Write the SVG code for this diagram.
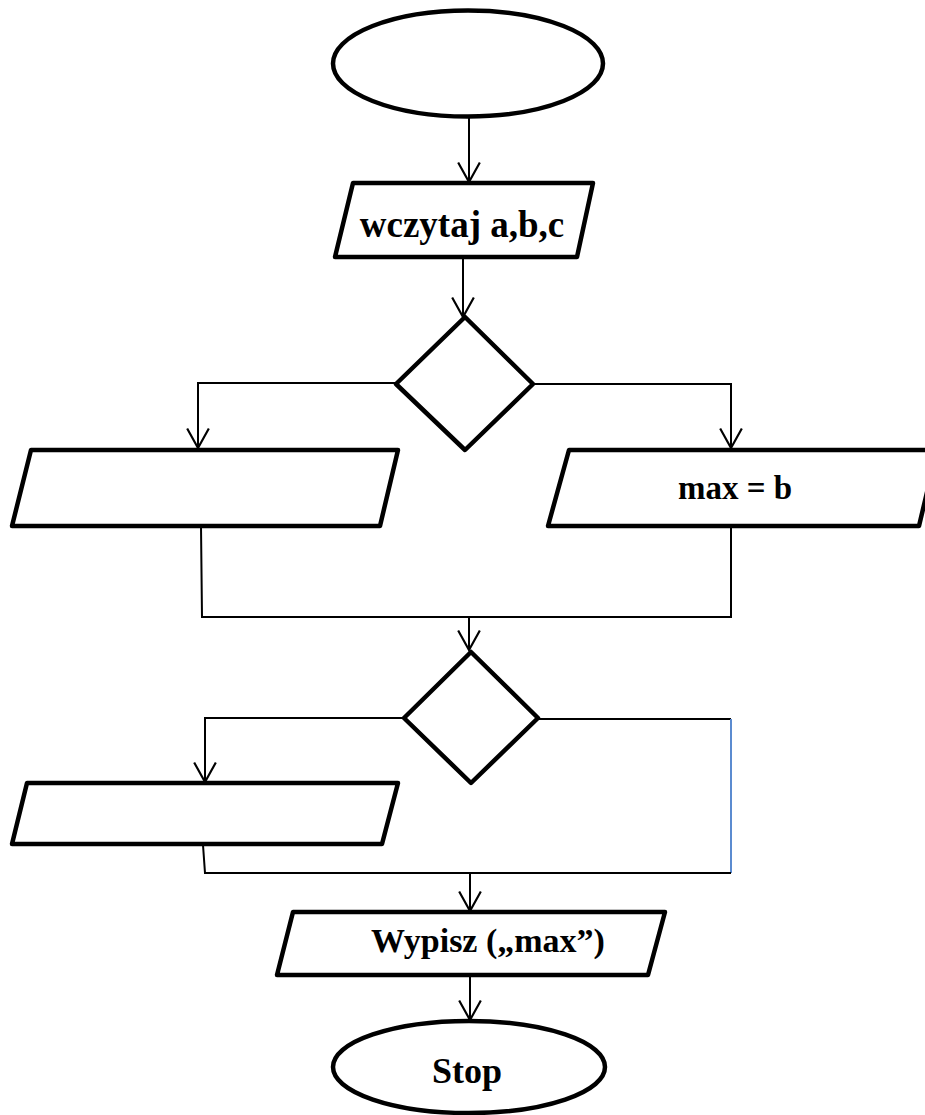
<svg xmlns="http://www.w3.org/2000/svg" width="925" height="1115" viewBox="0 0 925 1115">
<style>
.shape{fill:#fff;stroke:#000;stroke-width:4.5;stroke-linejoin:round}
.conn{fill:none;stroke:#000;stroke-width:2}
.arr{marker-end:url(#ah)}
.lbl{font-family:"Liberation Serif","Times New Roman",serif;font-weight:bold;fill:#000;text-anchor:middle}
</style>
<defs>
<marker id="ah" markerUnits="userSpaceOnUse" markerWidth="24" markerHeight="26" viewBox="-20 -12 22 24" refX="0" refY="0" orient="auto">
<path d="M-18,-10 L0,0 L-18,10" fill="none" stroke="#000" stroke-width="2"/>
</marker>
</defs>
<rect width="925" height="1115" fill="#fff"/>
<g id="connectors">
<line class="conn arr" x1="469" y1="117" x2="469" y2="182"/>
<line class="conn arr" x1="463" y1="257" x2="463" y2="317"/>
<polyline class="conn arr" points="396,383 198,383 198,448"/>
<polyline class="conn arr" points="533,384 731,384 731,448"/>
<polyline class="conn" points="201,526 202,617 731,617 731,526"/>
<line class="conn arr" x1="469" y1="617" x2="469" y2="650"/>
<polyline class="conn arr" points="404,718 205,718 205,782"/>
<line class="conn" x1="538" y1="719" x2="731" y2="719"/>
<line x1="731" y1="719" x2="731" y2="873" stroke="#5B8BD0" stroke-width="2"/>
<polyline class="conn" points="203,845 205,873 731,873"/>
<line class="conn arr" x1="470" y1="873" x2="470" y2="911"/>
<line class="conn arr" x1="470" y1="975" x2="470" y2="1020"/>
</g>
<g id="start">
<ellipse class="shape" cx="468" cy="63.5" rx="135" ry="53"/>
</g>
<g id="input">
<polygon class="shape" points="353,183 593,183 577,257 335,257"/>
<text class="lbl" x="462" y="237" font-size="37">wczytaj a,b,c</text>
</g>
<g id="decision1">
<polygon class="shape" points="465,317 533,384 465,450 396,384"/>
</g>
<g id="left1">
<polygon class="shape" points="31,450 398,450 380,526 12,526"/>
</g>
<g id="right1">
<polygon class="shape" points="569,450 937,450 919,526 548,526"/>
<text class="lbl" x="735" y="499" font-size="33">max = b</text>
</g>
<g id="decision2">
<polygon class="shape" points="471,652 538,718 471,783 404,718"/>
</g>
<g id="left2">
<polygon class="shape" points="27,783 398,783 382,844 12,844"/>
</g>
<g id="output">
<polygon class="shape" points="293,912 665,912 648,975 277,975"/>
<text class="lbl" x="488" y="952" font-size="34">Wypisz („max”)</text>
</g>
<g id="stop">
<ellipse class="shape" cx="469" cy="1067" rx="136" ry="46"/>
<text class="lbl" x="467" y="1083" font-size="36">Stop</text>
</g>
</svg>
